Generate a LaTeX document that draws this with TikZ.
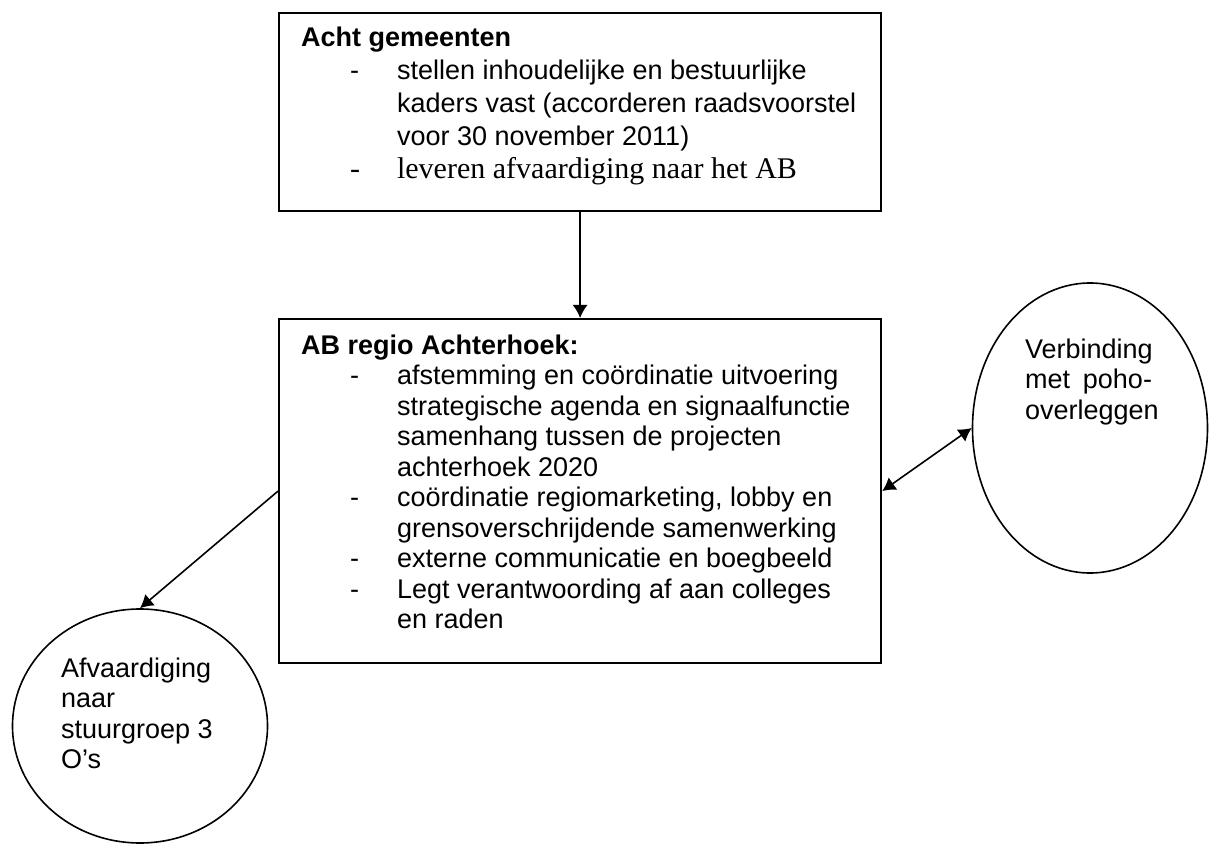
\documentclass[tikz,border=0pt]{standalone}
\usepackage{fontspec}
\setmainfont{Liberation Sans}
\newfontfamily\serif{Liberation Serif}
\usetikzlibrary{arrows.meta,shapes.geometric}

\newcommand{\punt}{\par\noindent\hangindent=48pt\hangafter=1\makebox[48pt][l]{\hspace{24.5pt}-}}

\begin{document}
\begin{tikzpicture}[x=0.5pt,y=-0.5pt,>={Latex[length=6.5pt,width=7.5pt]},
  kader/.style={draw,line width=1.1pt,inner sep=0pt,anchor=north west,
    font=\fontsize{13.5}{15.25}\selectfont},
  ovaal/.style={draw,ellipse,line width=0.8pt,inner sep=0pt,
    font=\fontsize{13.5}{15.25}\selectfont},
  pijl/.style={line width=0.8pt}]

\useasboundingbox (0,0) rectangle (1209,844);

\node[kader] (gemeenten) at (278,12) {\parbox[t][99pt][t]{301pt}{\leftskip=11pt
  \rule{0pt}{16.5pt}\textbf{Acht gemeenten}
  \punt stellen inhoudelijke en bestuurlijke\\
  kaders vast (accorderen raadsvoorstel\\
  voor 30 november 2011)
  {\serif\fontsize{15}{16.5}\selectfont\punt leveren afvaardiging naar het AB\par}}};

\node[kader] (ab) at (278,318) {\parbox[t][172pt][t]{301pt}{\leftskip=11pt
  \rule{0pt}{17.5pt}\textbf{AB regio Achterhoek:}
  \punt afstemming en coördinatie uitvoering\\
  strategische agenda en signaalfunctie\\
  samenhang tussen de projecten\\
  achterhoek 2020
  \punt coördinatie regiomarketing, lobby en\\
  grensoverschrijdende samenwerking
  \punt externe communicatie en boegbeeld
  \punt Legt verantwoording af aan colleges\\
  en raden\par}};

\node[ovaal,minimum width=117.5pt,minimum height=145pt] (verbinding) at (1090,428)
  {\parbox[c][90pt][t]{65pt}{\rule{0pt}{10pt}Verbinding\\
  \makebox[63.5pt][s]{met poho-}\\
  overleggen}};

\node[ovaal,minimum width=127.5pt,minimum height=117pt] (afvaardiging) at (140,726)
  {\parbox[c][69pt][t]{79pt}{\rule{0pt}{10pt}Afvaardiging\\
  naar\\
  stuurgroep~3\\
  O’s}};

\draw[->,pijl] (gemeenten) -- (ab);
\draw[<->,pijl] (ab.east) -- (verbinding.west);
\draw[->,pijl] (ab.west) -- (afvaardiging.north);

\end{tikzpicture}
\end{document}
